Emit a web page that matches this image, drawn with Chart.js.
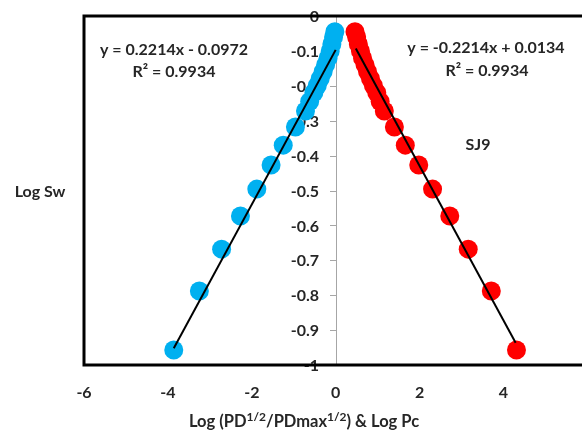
<!DOCTYPE html>
<html>
<head>
<meta charset="utf-8">
<script src="https://cdn.jsdelivr.net/npm/chart.js@4"></script>
<style>
  html, body { margin: 0; padding: 0; overflow: hidden; background: #fff; }
  canvas { display: block; }
</style>
</head>
<body>
<canvas id="grafico" width="610" height="432"></canvas>
<script>
// Log Sw de cada ponto (o mesmo para as duas séries)
var logSw = [-0.957, -0.788, -0.668, -0.573, -0.496, -0.427, -0.370, -0.318, -0.272, -0.245,
             -0.220, -0.200, -0.180, -0.160, -0.140, -0.120, -0.100, -0.080, -0.060, -0.045];
// Log (PD^1/2 / PDmax^1/2) - série azul
var logPD = [-3.86, -3.25, -2.72, -2.27, -1.88, -1.54, -1.25, -0.96, -0.72, -0.62,
             -0.52, -0.44, -0.37, -0.30, -0.24, -0.18, -0.13, -0.09, -0.05, -0.02];
// Log Pc - série vermelha
var logPc = [4.31, 3.71, 3.16, 2.72, 2.31, 1.98, 1.66, 1.40, 1.16, 1.06,
             0.98, 0.90, 0.83, 0.76, 0.70, 0.64, 0.59, 0.54, 0.50, 0.46];

// Linhas de tendência (extremos)
var azulTendX = [-3.86, 0.0];
var azulTendY = [-0.952, -0.097];
var vermTendX = [0.48, 4.29];
var vermTendY = [-0.093, -0.936];

// Eixos
var xTicks = [-6, -4, -2, 0, 2, 4, 6];
var yMin = -1, yMax = 0, yPasso = 0.1;

var fonte = 'Lato, "DejaVu Sans", sans-serif';
var corTexto = '#262626';

function pares(xs, ys) {
    return xs.map(function(x, i) { return { x: x, y: ys[i] }; });
}

// Eixo y desenhado em x = 0 (linha cinza, marcas e rótulos)
var eixoCentral = {
    id: 'eixoCentral',
    beforeDatasetsDraw: function(chart) {
        var ctx = chart.ctx;
        var sy = chart.scales.y;
        var x0 = Math.round(chart.scales.x.getPixelForValue(0));
        ctx.save();
        ctx.strokeStyle = '#A6A6A6';
        ctx.lineWidth = 1;
        ctx.beginPath();
        ctx.moveTo(x0 + 0.5, sy.top);
        ctx.lineTo(x0 + 0.5, sy.bottom);
        sy.ticks.forEach(function(t) {
            var py = Math.round(sy.getPixelForValue(t.value)) + 0.5;
            ctx.moveTo(x0 - 6, py);
            ctx.lineTo(x0 + 0.5, py);
        });
        ctx.stroke();

        ctx.fillStyle = corTexto;
        ctx.font = 'bold 16px ' + fonte;
        ctx.textAlign = 'right';
        ctx.textBaseline = 'middle';
        sy.ticks.forEach(function(t) {
            var rotulo = Number(t.value.toFixed(1)).toString();
            ctx.fillText(rotulo, x0 - 17, sy.getPixelForValue(t.value) + 1);
        });
        ctx.restore();
    }
};

// Plugin para moldura, equações e títulos
var textos = {
    id: 'textos',
    afterDraw: function(chart) {
        var ctx = chart.ctx;
        var a = chart.chartArea;
        ctx.save();

        // moldura
        ctx.strokeStyle = '#000';
        ctx.lineWidth = 3;
        ctx.strokeRect(a.left, a.top, a.right - a.left, a.bottom - a.top);

        ctx.fillStyle = corTexto;
        ctx.font = 'bold 16px ' + fonte;
        ctx.textAlign = 'center';
        ctx.textBaseline = 'middle';
        ctx.fillText('y = 0.2214x - 0.0972', 174, 50);
        ctx.fillText('R² = 0.9934', 174, 72);
        ctx.fillText('y = -0.2214x + 0.0134', 486, 48);
        ctx.fillText('R² = 0.9934', 487, 71);
        ctx.fillText('SJ9', 478, 145);
        ctx.fillText('Log Sw', 40, 192);

        // título do eixo x com sobrescritos
        var partes = [
            ['Log (PD', false], ['1/2', true], ['/PDmax', false], ['1/2', true], [') & Log Pc', false]
        ];
        var normal = 'bold 16.5px ' + fonte;
        var sup = 'bold 12px ' + fonte;
        var total = 0;
        partes.forEach(function(p) {
            ctx.font = p[1] ? sup : normal;
            total += ctx.measureText(p[0]).width;
        });
        var x = 304 - total / 2;
        ctx.textAlign = 'left';
        ctx.textBaseline = 'alphabetic';
        partes.forEach(function(p) {
            ctx.font = p[1] ? sup : normal;
            ctx.fillText(p[0], x, p[1] ? 421 : 427);
            x += ctx.measureText(p[0]).width;
        });
        ctx.restore();
    }
};

var ctx = document.getElementById('grafico').getContext('2d');

var myChart = new Chart(ctx, {
    type: 'scatter',
    data: {
        datasets: [{
            label: 'Tendência azul',
            data: pares(azulTendX, azulTendY),
            showLine: true,
            borderColor: '#000',
            borderWidth: 2,
            pointRadius: 0
        }, {
            label: 'Tendência vermelha',
            data: pares(vermTendX, vermTendY),
            showLine: true,
            borderColor: '#000',
            borderWidth: 2,
            pointRadius: 0
        }, {
            label: 'Log PD',
            data: pares(logPD, logSw),
            backgroundColor: '#00B0F0',
            borderWidth: 0,
            pointRadius: 9.5
        }, {
            label: 'Log Pc',
            data: pares(logPc, logSw),
            backgroundColor: '#FF0000',
            borderWidth: 0,
            pointRadius: 9.5
        }]
    },
    options: {
        responsive: false,
        animation: false,
        layout: { padding: { left: 84, top: 16, right: 0, bottom: 0 } },
        plugins: {
            legend: { display: false },
            tooltip: { enabled: false }
        },
        scales: {
            x: {
                type: 'linear',
                min: xTicks[0],
                max: xTicks[xTicks.length - 1],
                afterBuildTicks: function(s) {
                    s.ticks = xTicks.map(function(v) { return { value: v }; });
                },
                afterFit: function(s) { s.height = 67; },
                grid: { display: false, drawTicks: false },
                border: { display: false },
                ticks: {
                    padding: 18,
                    color: corTexto,
                    font: { family: fonte, size: 16, weight: 'bold' }
                }
            },
            y: {
                type: 'linear',
                display: false,
                min: yMin,
                max: yMax,
                ticks: { stepSize: yPasso }
            }
        }
    },
    plugins: [eixoCentral, textos]
});
</script>
</body>
</html>
